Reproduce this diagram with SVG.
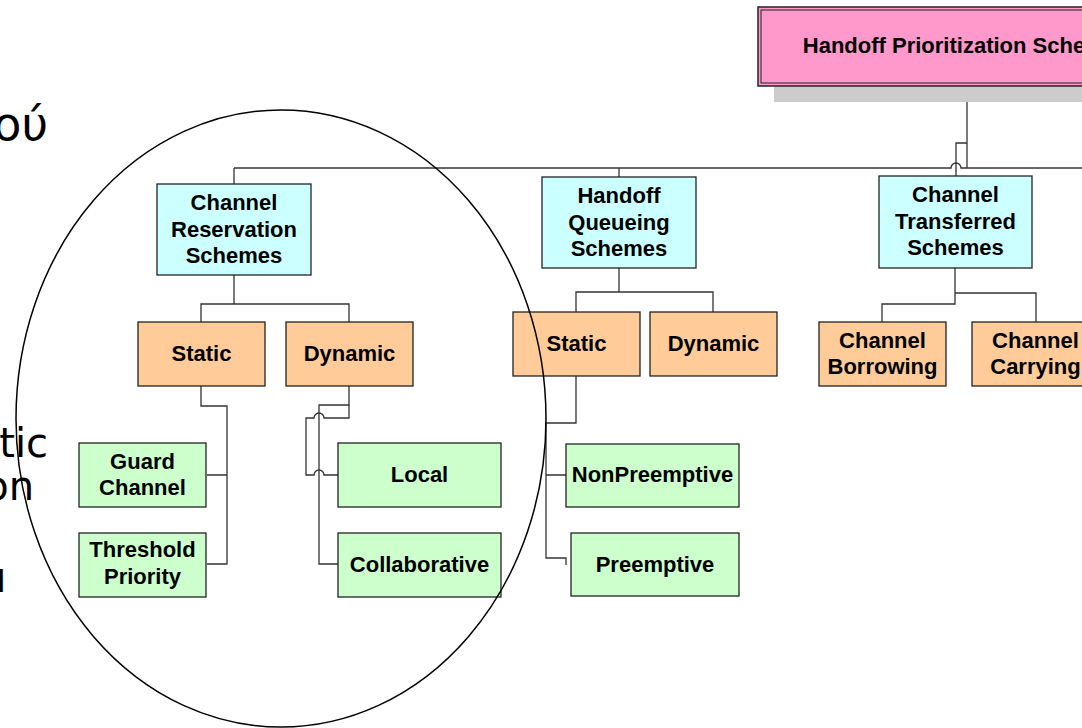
<svg xmlns="http://www.w3.org/2000/svg" width="1082" height="728" viewBox="0 0 1082 728">
<style>
.t{font-family:"Liberation Sans",Arial,sans-serif;font-weight:bold;font-size:22px;fill:#000;text-anchor:middle}
.bg{font-family:"DejaVu Sans",sans-serif;fill:#000;text-anchor:end}
.cy{fill:#ccffff;stroke:#222;stroke-width:1.3}
.or{fill:#ffcc99;stroke:#222;stroke-width:1.3}
.gr{fill:#ccffcc;stroke:#222;stroke-width:1.3}
.c{fill:none;stroke:#333;stroke-width:1.3}
</style>
<rect width="1082" height="728" fill="#fff"/>
<g id="background-text">
<text class="bg" x="48" y="140" font-size="46">ού</text>
<text class="bg" x="48" y="457" font-size="40">tic</text>
<text class="bg" x="34" y="500" font-size="40">on</text>
<text class="bg" x="-5" y="592" font-size="42" text-anchor="start" style="text-anchor:start">ı</text>
</g>
<g id="connectors">
<path class="c" d="M234,168 H951 A5,5 0 0 1 961,168 H967"/>
<path class="c" d="M967,168 H1082" stroke="#000" stroke-width="2"/>
<path class="c" d="M967,86 V168" stroke="#000" stroke-width="1.8"/>
<path class="c" d="M967,143 H956 V176"/>
<path class="c" d="M619,168 V177"/>
<path class="c" d="M234,168 V184"/>
<path class="c" d="M234,275 V304 H349 V322 M234,304 H201 V322"/>
<path class="c" d="M201,386 V406 H227 V564 H207 M227,475 H207"/>
<path class="c" d="M349,386 V405 H319 V564 H338"/>
<path class="c" d="M349,405 V418 H324 A5,5 0 0 0 314,418 H306 V475 H314 A5,5 0 0 1 324,475 H338"/>
<path class="c" d="M619,268 V292 H576 V312 M619,292 H713 V312"/>
<path class="c" d="M576,376 V423 H546 V475 H566 M546,475 V558 H566 V565"/>
<path class="c" d="M955,268 V304 H882 V322 M955,293 H1036 V322"/>
</g>
<g id="root">
<rect x="774" y="23" width="418" height="79" fill="#cccccc"/>
<rect x="758" y="7" width="418" height="79" fill="#ff99cc" stroke="#222" stroke-width="1.5"/>
<rect x="761" y="10" width="412" height="73" fill="none" stroke="#222" stroke-width="1"/>
<text class="t" x="966" y="53">Handoff Prioritization Schemes</text>
</g>
<g id="channel-reservation">
<rect class="cy" x="157" y="184" width="154" height="91"/>
<text class="t" x="234" y="210">Channel</text>
<text class="t" x="234" y="236.5">Reservation</text>
<text class="t" x="234" y="263">Schemes</text>
</g>
<g id="handoff-queueing">
<rect class="cy" x="542" y="177" width="154" height="91"/>
<text class="t" x="619" y="203">Handoff</text>
<text class="t" x="619" y="229.5">Queueing</text>
<text class="t" x="619" y="256">Schemes</text>
</g>
<g id="channel-transferred">
<rect class="cy" x="879" y="176" width="153" height="92"/>
<text class="t" x="955.5" y="202">Channel</text>
<text class="t" x="955.5" y="228.5">Transferred</text>
<text class="t" x="955.5" y="255">Schemes</text>
</g>
<g id="cr-static">
<rect class="or" x="138" y="322" width="127" height="64"/>
<text class="t" x="201.5" y="361">Static</text>
</g>
<g id="cr-dynamic">
<rect class="or" x="286" y="322" width="127" height="64"/>
<text class="t" x="349.5" y="361">Dynamic</text>
</g>
<g id="hq-static">
<rect class="or" x="513" y="312" width="127" height="64"/>
<text class="t" x="576.5" y="351">Static</text>
</g>
<g id="hq-dynamic">
<rect class="or" x="650" y="312" width="127" height="64"/>
<text class="t" x="713.5" y="351">Dynamic</text>
</g>
<g id="channel-borrowing">
<rect class="or" x="819" y="322" width="127" height="64"/>
<text class="t" x="882.5" y="347.5">Channel</text>
<text class="t" x="882.5" y="373.5">Borrowing</text>
</g>
<g id="channel-carrying">
<rect class="or" x="972" y="322" width="127" height="64"/>
<text class="t" x="1035.5" y="347.5">Channel</text>
<text class="t" x="1035.5" y="373.5">Carrying</text>
</g>
<g id="guard-channel">
<rect class="gr" x="79" y="443" width="127" height="64"/>
<text class="t" x="142.5" y="468.5">Guard</text>
<text class="t" x="142.5" y="495">Channel</text>
</g>
<g id="threshold-priority">
<rect class="gr" x="79" y="533" width="127" height="64"/>
<text class="t" x="142.5" y="557">Threshold</text>
<text class="t" x="142.5" y="583.5">Priority</text>
</g>
<g id="local">
<rect class="gr" x="338" y="443" width="163" height="64"/>
<text class="t" x="419.5" y="482">Local</text>
</g>
<g id="collaborative">
<rect class="gr" x="338" y="533" width="163" height="64"/>
<text class="t" x="419.5" y="572">Collaborative</text>
</g>
<g id="nonpreemptive">
<rect class="gr" x="566" y="444" width="173" height="63"/>
<text class="t" x="652.5" y="482">NonPreemptive</text>
</g>
<g id="preemptive">
<rect class="gr" x="571" y="533" width="168" height="63"/>
<text class="t" x="655" y="572">Preemptive</text>
</g>
<ellipse cx="281" cy="418.5" rx="265" ry="308.5" fill="none" stroke="#000" stroke-width="1.5"/>
</svg>
